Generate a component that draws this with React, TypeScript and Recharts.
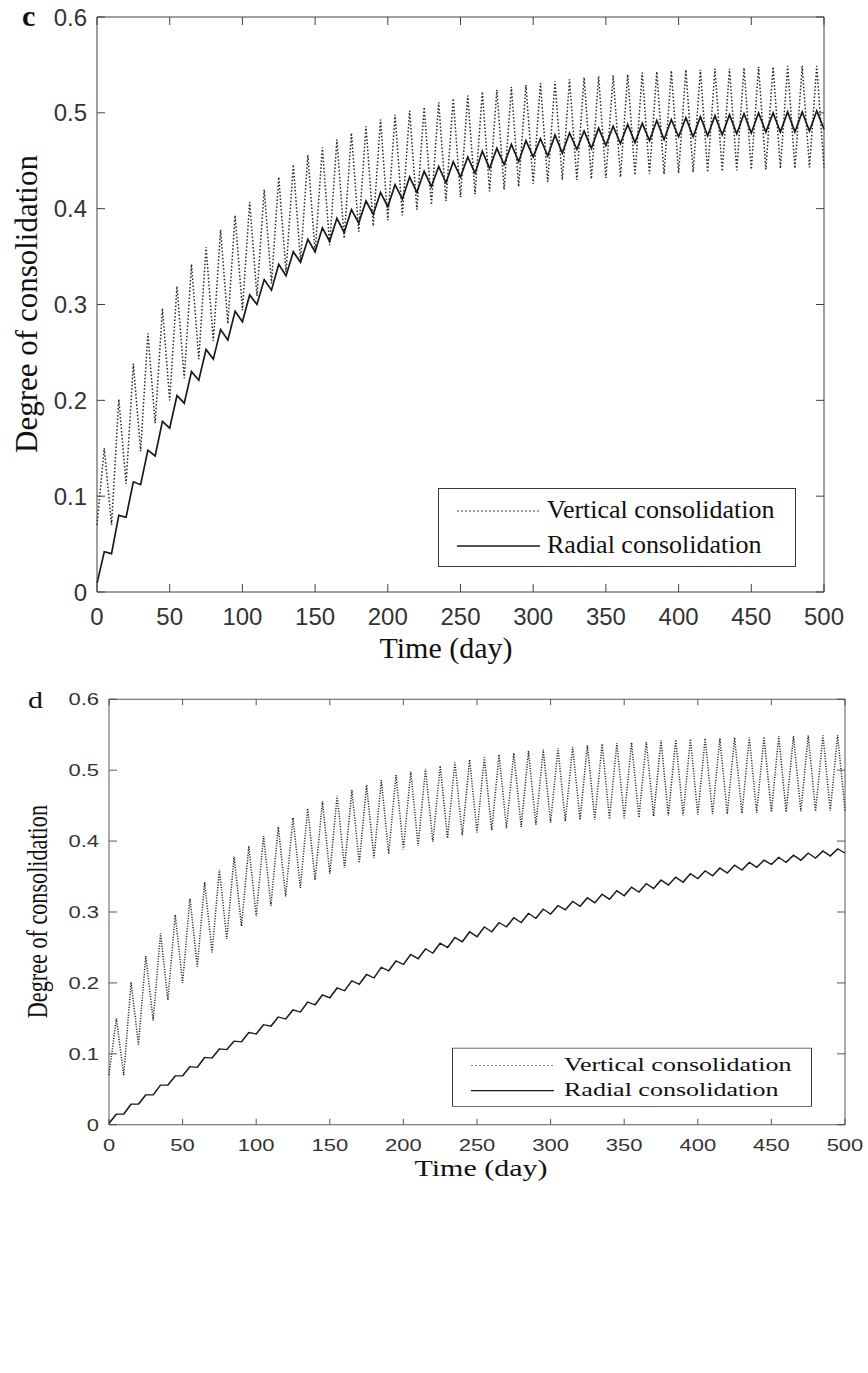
import React from 'react';
import { LineChart, Line, XAxis, YAxis, Legend, Label, ReferenceLine } from 'recharts';

// sampled every 5 days: loading peaks at 5, 15, 25 ... and unloading troughs at 10, 20, 30 ...
const days = [
  0,
  5, 10, 15, 20, 25, 30, 35, 40, 45, 50,
  55, 60, 65, 70, 75, 80, 85, 90, 95, 100,
  105, 110, 115, 120, 125, 130, 135, 140, 145, 150,
  155, 160, 165, 170, 175, 180, 185, 190, 195, 200,
  205, 210, 215, 220, 225, 230, 235, 240, 245, 250,
  255, 260, 265, 270, 275, 280, 285, 290, 295, 300,
  305, 310, 315, 320, 325, 330, 335, 340, 345, 350,
  355, 360, 365, 370, 375, 380, 385, 390, 395, 400,
  405, 410, 415, 420, 425, 430, 435, 440, 445, 450,
  455, 460, 465, 470, 475, 480, 485, 490, 495, 500,
];

// same vertical curve in both panels
const verticalConsolidation = [
  0.070,
  0.150, 0.070, 0.201, 0.113, 0.238, 0.147, 0.270, 0.176, 0.296, 0.200,
  0.319, 0.223, 0.342, 0.243, 0.360, 0.262, 0.378, 0.280, 0.393, 0.294,
  0.407, 0.309, 0.420, 0.322, 0.433, 0.334, 0.446, 0.345, 0.456, 0.354,
  0.464, 0.362, 0.472, 0.369, 0.479, 0.376, 0.486, 0.382, 0.493, 0.388,
  0.498, 0.393, 0.502, 0.399, 0.506, 0.404, 0.511, 0.408, 0.515, 0.412,
  0.518, 0.415, 0.522, 0.418, 0.524, 0.420, 0.527, 0.423, 0.529, 0.426,
  0.531, 0.428, 0.533, 0.430, 0.535, 0.430, 0.537, 0.431, 0.538, 0.432,
  0.539, 0.433, 0.540, 0.435, 0.542, 0.436, 0.543, 0.436, 0.544, 0.437,
  0.545, 0.438, 0.545, 0.438, 0.546, 0.439, 0.546, 0.440, 0.547, 0.441,
  0.548, 0.441, 0.548, 0.442, 0.549, 0.442, 0.549, 0.443, 0.549, 0.443,
];

const radialConsolidationC = [
  0.009,
  0.042, 0.040, 0.080, 0.078, 0.115, 0.112, 0.148, 0.142, 0.178, 0.171,
  0.205, 0.197, 0.230, 0.221, 0.253, 0.243, 0.274, 0.263, 0.293, 0.282,
  0.310, 0.300, 0.326, 0.315, 0.342, 0.330, 0.355, 0.344, 0.368, 0.355,
  0.380, 0.366, 0.390, 0.375, 0.399, 0.385, 0.408, 0.394, 0.417, 0.402,
  0.425, 0.410, 0.433, 0.417, 0.439, 0.423, 0.444, 0.427, 0.449, 0.433,
  0.454, 0.437, 0.460, 0.442, 0.463, 0.446, 0.467, 0.449, 0.471, 0.454,
  0.473, 0.455, 0.477, 0.458, 0.479, 0.462, 0.481, 0.463, 0.484, 0.466,
  0.486, 0.468, 0.488, 0.469, 0.489, 0.471, 0.492, 0.472, 0.493, 0.475,
  0.495, 0.475, 0.496, 0.476, 0.497, 0.477, 0.498, 0.478, 0.499, 0.479,
  0.500, 0.480, 0.500, 0.480, 0.501, 0.480, 0.501, 0.481, 0.502, 0.483,
];

const radialConsolidationD = [
  0.002,
  0.015, 0.015, 0.029, 0.029, 0.042, 0.042, 0.056, 0.056, 0.069, 0.069,
  0.082, 0.081, 0.095, 0.094, 0.107, 0.106, 0.118, 0.117, 0.130, 0.128,
  0.141, 0.139, 0.152, 0.149, 0.162, 0.159, 0.173, 0.169, 0.183, 0.179,
  0.193, 0.189, 0.203, 0.198, 0.212, 0.207, 0.222, 0.217, 0.231, 0.226,
  0.240, 0.234, 0.248, 0.242, 0.256, 0.250, 0.264, 0.258, 0.272, 0.265,
  0.279, 0.272, 0.285, 0.279, 0.292, 0.285, 0.298, 0.291, 0.304, 0.297,
  0.309, 0.303, 0.315, 0.308, 0.320, 0.313, 0.325, 0.318, 0.330, 0.323,
  0.335, 0.328, 0.340, 0.333, 0.345, 0.338, 0.349, 0.342, 0.354, 0.347,
  0.358, 0.351, 0.362, 0.355, 0.366, 0.359, 0.370, 0.363, 0.373, 0.367,
  0.377, 0.370, 0.380, 0.373, 0.383, 0.376, 0.386, 0.379, 0.389, 0.383,
];

const xTicks = [0, 50, 100, 150, 200, 250, 300, 350, 400, 450, 500];
const yTicks = [0, 0.1, 0.2, 0.3, 0.4, 0.5, 0.6];
const legendOrder = ['vertical', 'radial'];

const SERIF = '"Liberation Serif", "Times New Roman", serif';
const SANS = '"Liberation Sans", Arial, sans-serif';
const AXIS = '#404040';
const TICK_LEN = 8;

const panelCData = days.map((day, i) => ({
  day,
  vertical: verticalConsolidation[i],
  radial: radialConsolidationC[i],
}));

const panelDData = days.map((day, i) => ({
  day,
  vertical: verticalConsolidation[i],
  radial: radialConsolidationD[i],
}));

// layout of each panel (panel d is drawn at full height and squeezed with scaleY)
const panelC = {
  letter: 'c',
  letterBold: true,
  letterLeft: 22,
  letterTop: 1,
  top: 0,
  scaleY: 1,
  height: 670,
  margin: { top: 17, right: 44, left: 0, bottom: 0 },
  yAxisWidth: 97,
  xAxisHeight: 78,
  tickFont: 24,
  xLabelBaseline: 33,
  xTitleX: 446,
  xTitleY: 658,
  yTitleX: 37,
  yTitleY: 304,
  yTitleFont: 31,
  legend: { left: 438, top: 488, width: 358, height: 79, rows: [22, 57], sampleX: 18, textX: 108 },
};

const panelD = {
  letter: 'd',
  letterBold: false,
  letterLeft: 28,
  letterTop: 13,
  top: 680,
  scaleY: 0.74,
  height: 690,
  margin: { top: 26, right: 23, left: 0, bottom: 0 },
  yAxisWidth: 109,
  xAxisHeight: 89,
  tickFont: 22,
  xLabelBaseline: 36,
  xTitleX: 481,
  xTitleY: 670,
  yTitleX: 47,
  yTitleY: 313,
  yTitleFont: 30,
  legend: { left: 452, top: 497, width: 360, height: 80, rows: [23, 57], sampleX: 18, textX: 111 },
};

function LegendBox({ payload, box }: any) {
  const items = [...(payload || [])].sort(
    (a: any, b: any) => legendOrder.indexOf(a.dataKey) - legendOrder.indexOf(b.dataKey)
  );
  return (
    <div
      style={{
        position: 'relative',
        width: box.width,
        height: box.height,
        boxSizing: 'border-box',
        border: '1.5px solid #3a3a3a',
        background: '#fff',
      }}
    >
      {items.map((entry: any, i: number) => {
        const dotted = entry.dataKey === 'vertical';
        return (
          <div key={entry.value} style={{ position: 'absolute', left: 0, top: box.rows[i] - 17, width: '100%', height: 32 }}>
            <svg width={84} height={32} style={{ position: 'absolute', left: box.sampleX, top: 0 }}>
              <line
                x1={0}
                y1={17}
                x2={83}
                y2={17}
                stroke={dotted ? '#808080' : '#1a1a1a'}
                strokeWidth={dotted ? 1.4 : 1.6}
                strokeDasharray={dotted ? '2 2' : undefined}
              />
            </svg>
            <span
              style={{
                position: 'absolute',
                left: box.textX,
                top: 0,
                lineHeight: '32px',
                fontSize: 26,
                fontFamily: SERIF,
                color: '#111',
                whiteSpace: 'nowrap',
              }}
            >
              {entry.value}
            </span>
          </div>
        );
      })}
    </div>
  );
}

function Panel({ data, g }: any) {
  const plotTop = g.margin.top;
  const plotBottom = g.height - g.margin.bottom - g.xAxisHeight;
  const plotLeft = g.margin.left + g.yAxisWidth;
  const plotRight = 868 - g.margin.right;
  const font = { fill: '#333', fontSize: g.tickFont, fontFamily: SANS };
  const fmtY = (v: number) => (v === 0 ? '0' : String(v));

  // MATLAB style: tick marks point into the box on all four sides
  const bottomTick = (p: any) => (
    <g>
      <line x1={p.x} x2={p.x} y1={plotBottom} y2={plotBottom - TICK_LEN} stroke={AXIS} />
      <line x1={p.x} x2={p.x} y1={plotTop} y2={plotTop + TICK_LEN} stroke={AXIS} />
      <text x={p.x} y={plotBottom + g.xLabelBaseline} textAnchor="middle" {...font}>
        {p.payload.value}
      </text>
    </g>
  );
  const leftTick = (p: any) => (
    <g>
      <line x1={plotLeft} x2={plotLeft + TICK_LEN} y1={p.y} y2={p.y} stroke={AXIS} />
      <line x1={plotRight - TICK_LEN} x2={plotRight} y1={p.y} y2={p.y} stroke={AXIS} />
      <text x={plotLeft - 10} y={p.y} dy="0.36em" textAnchor="end" {...font}>
        {fmtY(p.payload.value)}
      </text>
    </g>
  );

  return (
    <div
      style={{
        position: 'absolute',
        left: 0,
        top: g.top,
        width: 868,
        height: g.height,
        transform: `scaleY(${g.scaleY})`,
        transformOrigin: '0 0',
      }}
    >
      <LineChart width={868} height={g.height} data={data} margin={g.margin}>
        <XAxis
          dataKey="day"
          type="number"
          domain={[0, 500]}
          ticks={xTicks}
          interval={0}
          height={g.xAxisHeight}
          tick={bottomTick}
          tickLine={false}
          axisLine={{ stroke: AXIS }}
        >
          <Label
            content={() => (
              <text x={g.xTitleX} y={g.xTitleY} textAnchor="middle" fontFamily={SERIF} fontSize={30} fill="#111">
                Time (day)
              </text>
            )}
          />
        </XAxis>
        <YAxis
          type="number"
          domain={[0, 0.6]}
          ticks={yTicks}
          interval={0}
          width={g.yAxisWidth}
          tick={leftTick}
          tickLine={false}
          axisLine={{ stroke: AXIS }}
        >
          <Label
            content={() => (
              <text
                x={g.yTitleX}
                y={g.yTitleY}
                transform={`rotate(-90 ${g.yTitleX} ${g.yTitleY})`}
                textAnchor="middle"
                fontFamily={SERIF}
                fontSize={g.yTitleFont}
                fill="#111"
              >
                Degree of consolidation
              </text>
            )}
          />
        </YAxis>
        {/* closing edges of the box */}
        <ReferenceLine y={0.6} stroke={AXIS} ifOverflow="extendDomain" />
        <ReferenceLine x={500} stroke={AXIS} ifOverflow="extendDomain" />
        <Legend
          layout="vertical"
          align="center"
          verticalAlign="middle"
          wrapperStyle={{ left: g.legend.left, top: g.legend.top, width: g.legend.width, height: g.legend.height }}
          content={(props: any) => <LegendBox payload={props.payload} box={g.legend} />}
        />
        <Line
          type="linear"
          dataKey="vertical"
          name="Vertical consolidation"
          stroke="#262626"
          strokeWidth={1.5}
          strokeDasharray="1.5 2"
          dot={false}
          activeDot={false}
          isAnimationActive={false}
        />
        <Line
          type="linear"
          dataKey="radial"
          name="Radial consolidation"
          stroke="#1a1a1a"
          strokeWidth={1.7}
          dot={false}
          activeDot={false}
          isAnimationActive={false}
        />
      </LineChart>
      <div
        style={{
          position: 'absolute',
          left: g.letterLeft,
          top: g.letterTop,
          fontFamily: SERIF,
          fontSize: 30,
          lineHeight: '30px',
          fontWeight: g.letterBold ? 'bold' : 'normal',
          color: '#111',
        }}
      >
        {g.letter}
      </div>
    </div>
  );
}

export default function App() {
  return (
    <div
      style={{
        position: 'absolute',
        left: 0,
        top: 0,
        width: 868,
        height: 1373,
        background: '#fff',
        overflow: 'hidden',
      }}
    >
      <Panel data={panelCData} g={panelC} />
      <Panel data={panelDData} g={panelD} />
    </div>
  );
}
